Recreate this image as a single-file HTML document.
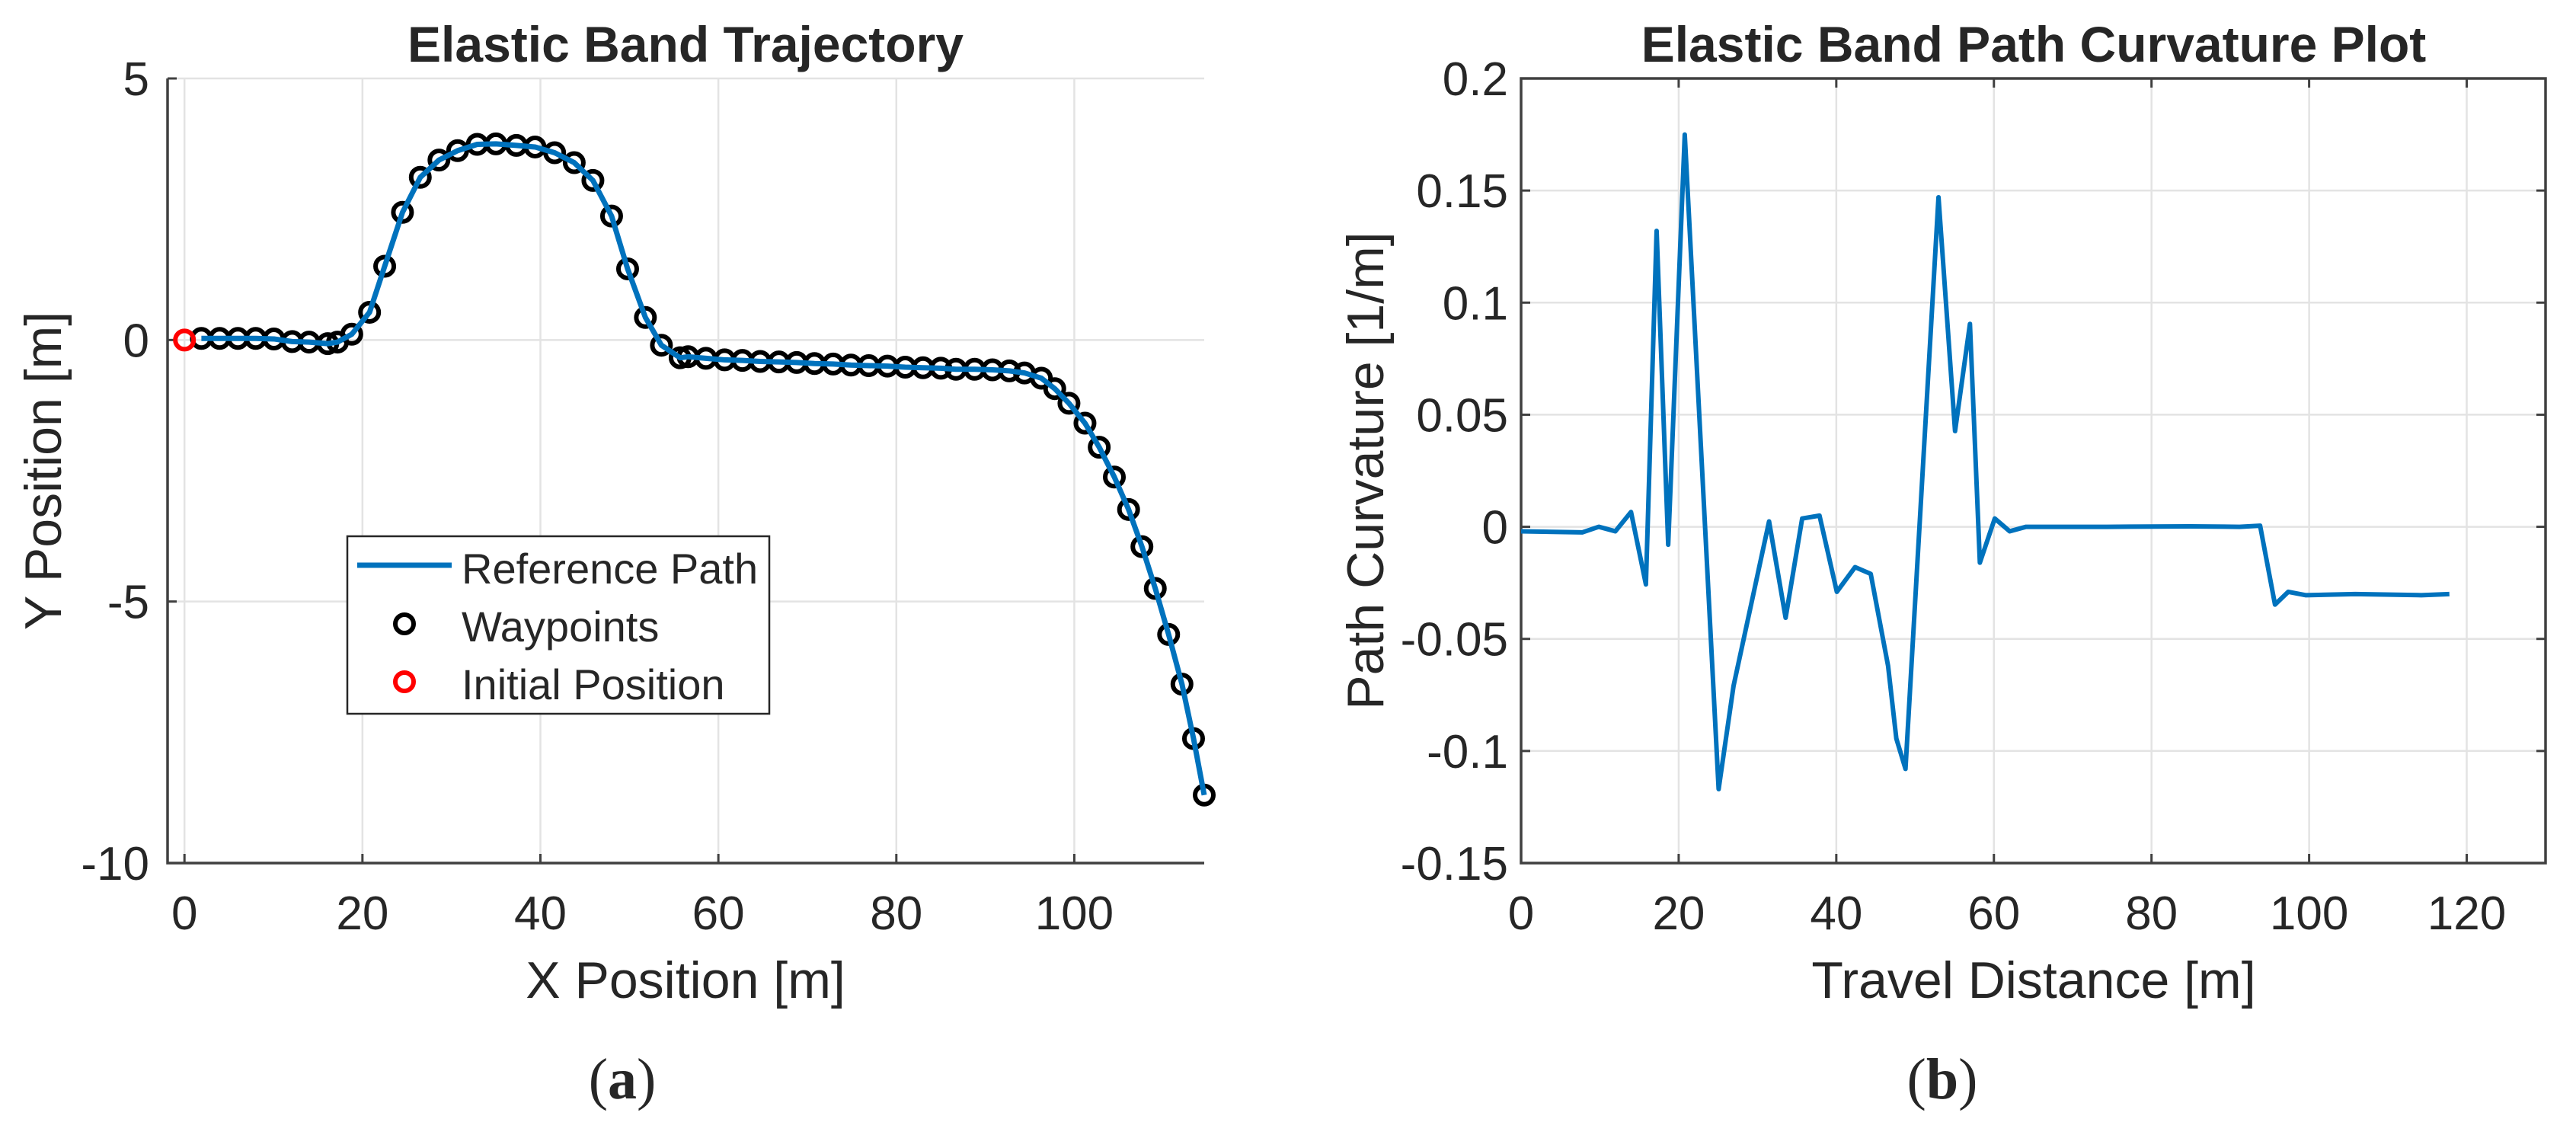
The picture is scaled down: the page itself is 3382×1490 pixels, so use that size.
<!DOCTYPE html>
<html><head><meta charset="utf-8"><style>
html,body{margin:0;padding:0;background:#fff;}
svg{display:block;}
text{font-family:"Liberation Sans",Arial,sans-serif;fill:#262626;}
</style></head><body>
<svg id="fig" width="3382" height="1490" viewBox="0 0 3382 1490" xmlns="http://www.w3.org/2000/svg"></svg>
<script>
// ---- Chart (a) data: waypoints ----
const wpX = [1.9,3.95,6.0,8.0,10.05,12.1,14.0,16.1,17.2,18.8,20.8,22.5,24.5,26.5,28.6,30.7,32.9,35.0,37.3,39.4,41.6,43.8,45.9,48.0,49.8,51.8,53.6,55.7,56.6,58.6,60.7,62.7,64.7,66.8,68.8,70.8,72.9,74.9,76.9,79.0,81.0,83.0,85.0,86.7,88.8,90.8,92.7,94.4,96.3,97.8,99.4,101.2,102.8,104.5,106.1,107.6,109.1,110.6,112.1,113.4,114.6];
const wpY = [0.03,0.03,0.03,0.03,0.02,-0.03,-0.04,-0.07,-0.04,0.11,0.53,1.41,2.44,3.11,3.44,3.62,3.74,3.75,3.72,3.69,3.58,3.39,3.05,2.37,1.36,0.43,-0.10,-0.34,-0.32,-0.35,-0.38,-0.39,-0.41,-0.42,-0.43,-0.45,-0.46,-0.48,-0.49,-0.50,-0.52,-0.53,-0.54,-0.56,-0.56,-0.57,-0.59,-0.63,-0.73,-0.93,-1.21,-1.59,-2.05,-2.62,-3.24,-3.95,-4.75,-5.63,-6.58,-7.62,-8.70];
const initX = [0];
const initY = [0];
const aXTicks = [0,20,40,60,80,100];
const aYTicks = [5,0,-5,-10];
// ---- Chart (b) data: curvature ----
const kS = [0,7.76,9.86,11.96,13.95,15.84,17.20,18.67,20.77,25.07,26.96,29.48,31.47,33.57,35.67,37.87,40.07,42.38,44.37,46.57,47.62,48.78,52.97,55.07,56.96,58.22,60.11,62.0,64.09,70.18,74.37,84.86,91.16,93.78,95.67,97.35,99.55,105.84,114.23,117.8];
const kV = [-0.002,-0.0025,0.0,-0.002,0.0066,-0.0257,0.132,-0.008,0.175,-0.117,-0.071,-0.03,0.0024,-0.0406,0.0037,0.005,-0.029,-0.018,-0.021,-0.062,-0.0945,-0.108,0.147,0.0427,0.0905,-0.016,0.0037,-0.002,0.0,0.0,0.0,0.0002,0.0,0.0005,-0.0347,-0.029,-0.0305,-0.03,-0.0305,-0.03];
const bXTicks = [0,20,40,60,80,100,120];
const bYTicks = [0.2,0.15,0.1,0.05,0,-0.05,-0.1,-0.15];
const bYLabels = ["0.2","0.15","0.1","0.05","0","-0.05","-0.1","-0.15"];

const NS="http://www.w3.org/2000/svg";
const svg=document.getElementById('fig');
function mk(tag,attrs,parent){const e=document.createElementNS(NS,tag);for(const k in attrs)e.setAttribute(k,attrs[k]);(parent||svg).appendChild(e);return e;}
function txt(s,attrs,parent){const e=mk('text',attrs,parent);e.textContent=s;return e;}
function caption(letter,x,parent,name){
  const e=mk('text',{x:x,y:1442,'text-anchor':'middle','font-size':76,style:'font-family:"Liberation Serif",serif',fill:'#000'},parent);
  
  
  const a=mk('tspan',{},e);a.textContent='(';
  const b=mk('tspan',{'font-weight':'bold'},e);b.textContent=letter;
  const c=mk('tspan',{},e);c.textContent=')';
}

// ---------- Plot A ----------
const A={l:220,r:1581,t:103,b:1133,x0:-1.9,x1:114.6,y0:-10,y1:5};
const ax=v=>A.l+(v-A.x0)/(A.x1-A.x0)*(A.r-A.l);
const ay=v=>A.b-(v-A.y0)/(A.y1-A.y0)*(A.b-A.t);
const gA=mk('g',{});


aXTicks.forEach(v=>{const l=mk('line',{x1:ax(v),x2:ax(v),y1:A.t,y2:A.b,stroke:'#e3e3e3','stroke-width':2.5},gA);});
aYTicks.forEach(v=>{const l=mk('line',{x1:A.l,x2:A.r,y1:ay(v),y2:ay(v),stroke:'#e3e3e3','stroke-width':2.5},gA);});
let axl=mk('path',{d:`M${A.l},${A.t}V${A.b}H${A.r}`,fill:'none',stroke:'#404040','stroke-width':3.5},gA);

aXTicks.forEach(v=>{mk('line',{x1:ax(v),x2:ax(v),y1:A.b,y2:A.b-12,stroke:'#404040','stroke-width':3},gA);
 const t=txt(String(v),{x:ax(v),y:1220,'text-anchor':'middle','font-size':62},gA);});
aYTicks.forEach(v=>{mk('line',{x1:A.l,x2:A.l+12,y1:ay(v),y2:ay(v),stroke:'#404040','stroke-width':3},gA);
 const t=txt(String(v),{x:196,y:ay(v)+22,'text-anchor':'end','font-size':62},gA);});
wpX.forEach((x,i)=>{const c=mk('circle',{cx:ax(x),cy:ay(wpY[i]),r:12,fill:'none',stroke:'#000','stroke-width':6},gA);
 });
const pa=mk('polyline',{points:wpX.map((x,i)=>ax(x)+','+ay(wpY[i])).join(' '),fill:'none',stroke:'#0072BD','stroke-width':7,'stroke-linejoin':'round'},gA);

initX.forEach((x,i)=>{const c=mk('circle',{cx:ax(x),cy:ay(initY[i]),r:12,fill:'none',stroke:'#ff0000','stroke-width':6},gA);
 });
let t;
t=txt('Elastic Band Trajectory',{x:900,y:81,'text-anchor':'middle','font-size':66,'font-weight':'bold',fill:'#000'},gA);
t=txt('X Position [m]',{x:900,y:1310,'text-anchor':'middle','font-size':68},gA);
t=txt('Y Position [m]',{x:0,y:0,'text-anchor':'middle','font-size':68,transform:'translate(80,618) rotate(-90)'},gA);
const lg=mk('g',{},gA);
mk('rect',{x:456,y:704,width:554,height:233,fill:'#fff',stroke:'#262626','stroke-width':2.5},lg);
mk('line',{x1:469,x2:593,y1:742,y2:742,stroke:'#0072BD','stroke-width':7},lg);
mk('circle',{cx:531,cy:819,r:12,fill:'none',stroke:'#000','stroke-width':6},lg);
mk('circle',{cx:531,cy:895,r:12,fill:'none',stroke:'#ff0000','stroke-width':6},lg);
t=txt('Reference Path',{x:606,y:766,'font-size':56},lg);
t=txt('Waypoints',{x:606,y:842,'font-size':56},lg);
t=txt('Initial Position',{x:606,y:918,'font-size':56},lg);
caption('a',817,gA,'caption-a');

// ---------- Plot B ----------
const B={l:1997,r:3342,t:103,b:1133,x0:0,x1:130,y0:-0.15,y1:0.2};
const bx=v=>B.l+(v-B.x0)/(B.x1-B.x0)*(B.r-B.l);
const by=v=>B.b-(v-B.y0)/(B.y1-B.y0)*(B.b-B.t);
const gB=mk('g',{});


bXTicks.forEach(v=>{const l=mk('line',{x1:bx(v),x2:bx(v),y1:B.t,y2:B.b,stroke:'#e3e3e3','stroke-width':2.5},gB);});
bYTicks.forEach(v=>{const l=mk('line',{x1:B.l,x2:B.r,y1:by(v),y2:by(v),stroke:'#e3e3e3','stroke-width':2.5},gB);});
bXTicks.forEach(v=>{mk('line',{x1:bx(v),x2:bx(v),y1:B.b,y2:B.b-12,stroke:'#404040','stroke-width':3},gB);
 mk('line',{x1:bx(v),x2:bx(v),y1:B.t,y2:B.t+12,stroke:'#404040','stroke-width':3},gB);
 const t=txt(String(v),{x:bx(v),y:1220,'text-anchor':'middle','font-size':62},gB);});
bYTicks.forEach((v,i)=>{mk('line',{x1:B.l,x2:B.l+12,y1:by(v),y2:by(v),stroke:'#404040','stroke-width':3},gB);
 mk('line',{x1:B.r,x2:B.r-12,y1:by(v),y2:by(v),stroke:'#404040','stroke-width':3},gB);
 const t=txt(bYLabels[i],{x:1980,y:by(v)+22,'text-anchor':'end','font-size':62},gB);});
let bb=mk('rect',{x:B.l,y:B.t,width:B.r-B.l,height:B.b-B.t,fill:'none',stroke:'#404040','stroke-width':3.5},gB);

const pb=mk('polyline',{points:kS.map((s,i)=>bx(s)+','+by(kV[i])).join(' '),fill:'none',stroke:'#0072BD','stroke-width':6,'stroke-linejoin':'round'},gB);

t=txt('Elastic Band Path Curvature Plot',{x:2670,y:81,'text-anchor':'middle','font-size':66,'font-weight':'bold',fill:'#000'},gB);
t=txt('Travel Distance [m]',{x:2670,y:1310,'text-anchor':'middle','font-size':68},gB);
t=txt('Path Curvature [1/m]',{x:0,y:0,'text-anchor':'middle','font-size':68,transform:'translate(1816,618) rotate(-90)'},gB);
caption('b',2550,gB,'caption-b');
</script>
</body></html>
